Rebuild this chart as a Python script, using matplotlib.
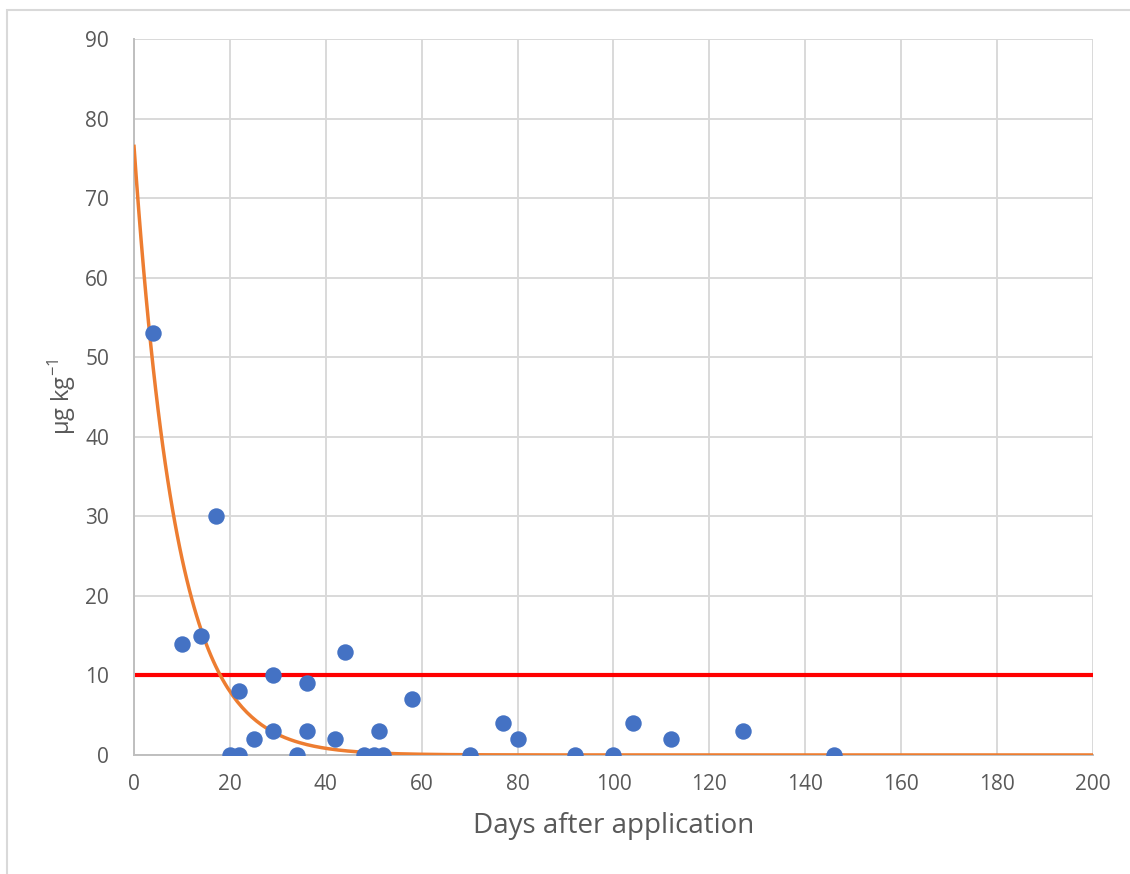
import numpy as np
import matplotlib.pyplot as plt
from matplotlib.patches import Rectangle

plt.rcParams['font.family'] = ['Open Sans', 'DejaVu Sans']

# Measured residues
days = [4, 10, 14, 17, 20, 22, 22, 25, 29, 29, 34, 36, 36, 42, 44, 48, 50, 51, 52,
        58, 70, 77, 80, 92, 100, 104, 112, 127, 146]
residue = [53, 14, 15, 30, 0, 0, 8, 2, 10, 3, 0, 9, 3, 2, 13, 0, 0, 3, 0,
           7, 0, 4, 2, 0, 0, 4, 2, 3, 0]

# Exponential decay trendline y = c0 * exp(-k * t)
c0 = 76.5
k = 0.113
limit = 10

txt = '#595959'
grid = '#D9D9D9'

fig = plt.figure(figsize=(11.3, 8.74), dpi=100)
fig.patches.append(Rectangle((7 / 1130, -0.01), 1.1, 1 - 10 / 874 + 0.01,
                             transform=fig.transFigure, fill=False,
                             edgecolor=grid, linewidth=1.5))
ax = fig.add_axes([0.1186, 0.1362, 0.8486, 0.8192])

t = np.linspace(0, 200, 400)
ax.plot(t, c0 * np.exp(-k * t), color='#ED7D31', lw=2.5, zorder=3)
ax.plot([0, 200], [limit, limit], color='#FF0000', lw=3, zorder=2, solid_capstyle='butt')
ax.scatter(days, residue, s=140, color='#4472C4', zorder=4, linewidths=0)

ax.set_xlim(0, 200)
ax.set_ylim(0, 90)
ax.set_xticks(np.arange(0, 201, 20))
ax.set_yticks(np.arange(0, 91, 10))
ax.grid(True, color=grid, lw=1.4)
ax.set_axisbelow(True)
for s in ['top', 'right']:
    ax.spines[s].set_visible(False)
for s in ['left', 'bottom']:
    ax.spines[s].set_color('#BFBFBF')
    ax.spines[s].set_linewidth(1.4)
ax.tick_params(axis='x', length=0, labelsize=15, labelcolor=txt, pad=14)
ax.tick_params(axis='y', length=0, labelsize=15, labelcolor=txt, pad=18)

ax.set_xlabel('Days after application', fontsize=20, color=txt, labelpad=12)
ax.set_ylabel('µg kg$^{\\mathregular{-1}}$', fontsize=17, color=txt, labelpad=5)

fig.savefig('out.png', dpi=100)
